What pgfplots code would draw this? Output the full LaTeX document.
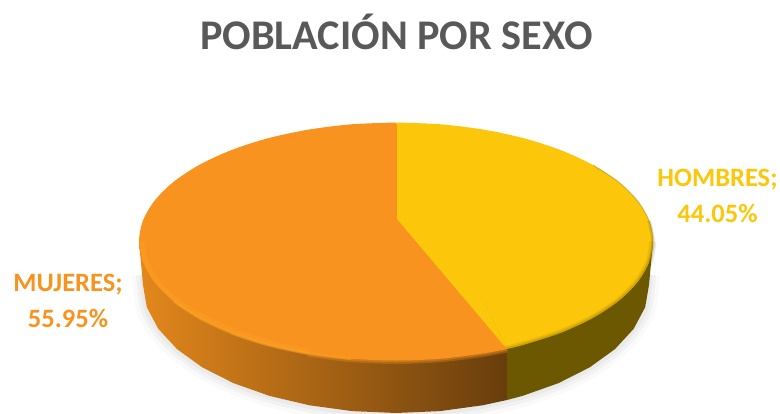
\documentclass[border=0pt]{standalone}
\usepackage{pgfplots}
\pgfplotsset{compat=1.18}
\usepackage{fontspec}
\setmainfont{Carlito}
\definecolor{mujer}{HTML}{F7931E}
\definecolor{hombre}{HTML}{FCC60A}
\definecolor{hside}{HTML}{6B5800}
\definecolor{titlegray}{HTML}{595959}
\definecolor{glow}{HTML}{FFA526}
\begin{document}
\begin{tikzpicture}
\begin{axis}[
  at={(0,0)},anchor=south west,
  scale only axis,width=780bp,height=414bp,
  xmin=0,xmax=780,ymin=0,ymax=414,y dir=reverse,
  hide axis,clip=true,
  every axis plot/.append style={line cap=butt,line join=round}]
% soft shadow round the base
\addplot[smooth,draw=gray!35,opacity=.12,line width=22bp,fill=none] coordinates {(143,275)(146.8,307.2)(158.3,328.8)(176.9,349)(202.2,367.3)(233.4,383.1)(269.5,395.9)(309.5,405.3)(352.1,411.1)(396,413)(439.9,411.1)(482.5,405.3)(522.5,395.9)(558.6,383.1)(589.8,367.3)(615.1,349)(633.7,328.8)(645.2,307.2)(649,275)};
\addplot[smooth,draw=gray!35,opacity=.18,line width=14bp,fill=none] coordinates {(143,275)(146.8,307.2)(158.3,328.8)(176.9,349)(202.2,367.3)(233.4,383.1)(269.5,395.9)(309.5,405.3)(352.1,411.1)(396,413)(439.9,411.1)(482.5,405.3)(522.5,395.9)(558.6,383.1)(589.8,367.3)(615.1,349)(633.7,328.8)(645.2,307.2)(649,275)};
\addplot[smooth,draw=gray!35,opacity=.25,line width=7bp,fill=none] coordinates {(143,275)(146.8,307.2)(158.3,328.8)(176.9,349)(202.2,367.3)(233.4,383.1)(269.5,395.9)(309.5,405.3)(352.1,411.1)(396,413)(439.9,411.1)(482.5,405.3)(522.5,395.9)(558.6,383.1)(589.8,367.3)(615.1,349)(633.7,328.8)(645.2,307.2)(649,275)};
% side walls
\addplot[draw=none,left color=mujer!92!black,right color=black!58!mujer] coordinates {(139,241.5)(143,285)(146.8,307.2)(158.3,328.8)(176.9,349)(202.2,367.3)(233.4,383.1)(269.5,395.9)(309.5,405.3)(352.1,411.1)(396,413)(439.9,411.1)(482.5,405.3)(507,400)(507,300)} -- cycle;
\addplot[draw=none,fill=hside] coordinates {(507,300)(507,400)(522.5,395.9)(558.6,383.1)(589.8,367.3)(615.1,349)(633.7,328.8)(645.2,307.2)(649,285)(653,241.5)} -- cycle;
% top face: orange arc, then yellow arc, then yellow wedge
\addplot[smooth,draw=none,fill=mujer] coordinates {(396,122.5)(351.4,124.3)(308.1,129.7)(267.5,138.4)(230.8,150.3)(199.1,165)(173.4,182)(154.5,200.8)(142.9,220.8)(139,241.5)(142.9,262.2)(154.5,282.2)(173.4,301)(199.1,318)(230.8,332.7)(267.5,344.6)(308.1,353.3)(351.4,358.7)(396,360.5)(440.6,358.7)(484,353.3)(507,349)};
\addplot[smooth,draw=none,fill=hombre] coordinates {(507,349)(524.5,344.6)(561.2,332.7)(592.9,318)(618.6,301)(637.5,282.2)(649.1,262.2)(653,241.5)(649.1,220.8)(637.5,200.8)(618.6,182)(592.9,165)(561.2,150.3)(524.5,138.4)(484,129.7)(440.6,124.3)(396,122.5)};
\addplot[draw=none,fill=hombre] coordinates {(397,219)(397,122.5)(507,349)} -- cycle;
% bevel on the orange rim
\addplot[smooth,draw=mujer,opacity=.3,line width=7bp,fill=none] coordinates {(308.1,353.3)(351.4,358.7)(396,360.5)(440.6,358.7)(484,353.3)(507,349)};
\addplot[smooth,draw=mujer,opacity=.4,line width=3.5bp,fill=none] coordinates {(230.8,332.7)(267.5,344.6)(308.1,353.3)(351.4,358.7)(396,360.5)(440.6,358.7)(484,353.3)(507,349)};
\addplot[smooth,draw=glow,opacity=.35,line width=5bp,fill=none] coordinates {(142,241.5)(146,262)(157,281)(175.5,299.5)(201,315.5)(232.5,330.5)(269,342.5)(309,351.5)};
\addplot[smooth,draw=glow,opacity=.5,line width=2.5bp,fill=none] coordinates {(173.4,301)(199.1,318)(230.8,332.7)(267.5,344.6)(308.1,353.3)(351.4,358.7)};
% bevel on the yellow rim
\addplot[smooth,draw=hside,opacity=.12,line width=7bp,fill=none] coordinates {(507,349)(524.5,344.6)(561.2,332.7)(592.9,318)(618.6,301)(637.5,282.2)(649.1,262.2)(653,241.5)};
\addplot[smooth,draw=hside,opacity=.2,line width=3.5bp,fill=none] coordinates {(507,349)(524.5,344.6)(561.2,332.7)(592.9,318)(618.6,301)(637.5,282.2)(649.1,262.2)(653,241.5)(649.1,220.8)};
\addplot[smooth,draw=hside,opacity=.3,line width=1bp,fill=none] coordinates {(649.1,262.2)(653,241.5)(649.1,220.8)(637.5,200.8)(618.6,182)(592.9,165)};
% texts
\node[text=titlegray,font=\fontsize{42.4}{46}\selectfont\bfseries] at (axis cs:396.5,32) {POBLACIÓN POR SEXO};
\node[text=mujer,font=\fontsize{26.6}{28}\selectfont\bfseries] at (axis cs:68,285) {MUJERES;};
\node[text=mujer,font=\fontsize{26.6}{28}\selectfont\bfseries] at (axis cs:68,318) {55.95\%};
\node[text=hombre,font=\fontsize{26.6}{28}\selectfont\bfseries] at (axis cs:717.5,180) {HOMBRES;};
\node[text=hombre,font=\fontsize{26.6}{28}\selectfont\bfseries] at (axis cs:717.5,213) {44.05\%};
\end{axis}
\pgfresetboundingbox
\path[use as bounding box] (0,0) rectangle (780bp,414bp);
\end{tikzpicture}
\end{document}
